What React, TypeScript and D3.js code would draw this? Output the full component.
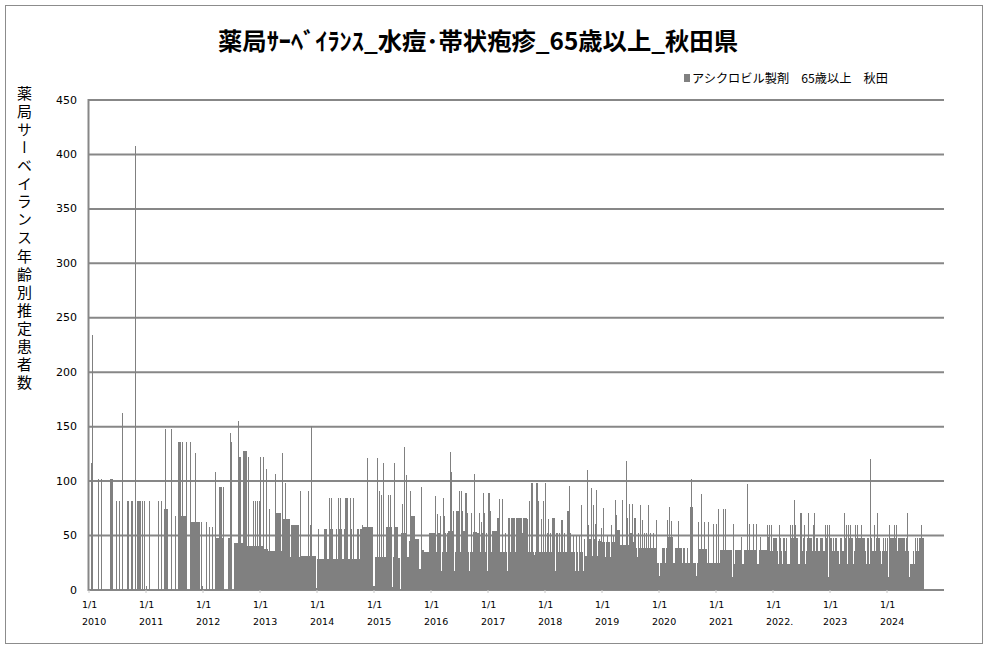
import React from 'react';
import * as d3 from 'd3';

// ---------- data (decimal years) ----------
const yearTicks = [2010, 2011, 2012, 2013, 2014, 2015, 2016, 2017, 2018, 2019, 2020, 2021, 2022, 2023, 2024];
const yearLabels = ['2010', '2011', '2012', '2013', '2014', '2015', '2016', '2017', '2018', '2019', '2020', '2021', '2022.', '2023', '2024'];
const yTicks = [0, 50, 100, 150, 200, 250, 300, 350, 400, 450];

// step levels: [start year, value]
const levels: [number, number][] = [
  [2010.0, 0],
  [2010.368, 102], [2010.416, 0],
  [2010.667, 82], [2010.695, 0],
  [2010.737, 82], [2010.766, 0],
  [2010.842, 82], [2010.87, 0],
  [2010.882, 82], [2010.912, 0],
  [2010.93, 82], [2010.953, 0],
  [2011.316, 74], [2011.386, 0],
  [2011.554, 136], [2011.614, 68], [2011.702, 0],
  [2011.777, 62], [2011.925, 0],
  [2012.211, 48], [2012.281, 95], [2012.328, 48], [2012.374, 0],
  [2012.432, 48], [2012.495, 0],
  [2012.539, 43], [2012.619, 122], [2012.661, 43], [2012.695, 128], [2012.772, 40],
  [2013.053, 38], [2013.14, 36], [2013.286, 71], [2013.326, 36], [2013.386, 65], [2013.54, 60], [2013.725, 31],
  [2014.0, 28.5], [2014.123, 56], [2014.175, 28.5], [2014.223, 56], [2014.275, 28.5], [2014.386, 56], [2014.439, 28.5],
  [2014.486, 84.5], [2014.544, 28.5], [2014.574, 56], [2014.619, 28.5], [2014.702, 56], [2014.742, 28.5], [2014.754, 56], [2014.812, 58],
  [2015.01, 30.5], [2015.21, 58], [2015.31, 30], [2015.37, 58], [2015.42, 29], [2015.48, 52], [2015.565, 30],
  [2015.61, 45], [2015.655, 68], [2015.713, 47], [2015.79, 19], [2015.83, 37], [2015.87, 35],
  [2015.98, 52], [2016.07, 35], [2016.12, 52], [2016.2, 35], [2016.25, 52], [2016.304, 54], [2016.391, 35],
  [2016.438, 72.5], [2016.497, 35], [2016.567, 54], [2016.596, 89], [2016.625, 35], [2016.731, 53], [2016.801, 35],
  [2017.005, 89], [2017.035, 35], [2017.064, 54], [2017.152, 35], [2017.158, 66], [2017.21, 35], [2017.339, 66], [2017.678, 35],
  [2017.754, 98], [2017.795, 35], [2017.842, 98], [2017.871, 82], [2017.9, 35],
  [2018.128, 66], [2018.175, 35], [2018.28, 64], [2018.321, 35], [2018.38, 72.5], [2018.427, 35],
  [2018.68, 31.5], [2018.935, 45], [2018.977, 44],
  [2019.234, 55], [2019.316, 41], [2019.491, 52], [2019.52, 44], [2019.561, 66], [2019.596, 39],
  [2019.971, 25], [2020.058, 39], [2020.105, 25], [2020.117, 39], [2020.146, 49], [2020.24, 25], [2020.281, 39], [2020.398, 25],
  [2020.427, 39], [2020.456, 25], [2020.485, 39], [2020.515, 25], [2020.544, 76.5], [2020.602, 25], [2020.696, 38], [2020.836, 25], [2020.87, 24.5],
  [2021.07, 37], [2021.275, 24], [2021.333, 37], [2021.45, 24], [2021.491, 37], [2021.713, 24], [2021.749, 37], [2021.89, 48.7], [2021.947, 36],
  [2022.005, 48], [2022.064, 36], [2022.24, 24], [2022.3, 48], [2022.444, 24], [2022.474, 36], [2022.479, 71], [2022.514, 36],
  [2022.59, 48], [2022.678, 36], [2022.754, 48], [2022.795, 36], [2022.824, 48], [2022.883, 36], [2022.912, 48], [2022.97, 36],
  [2023.0, 48], [2023.03, 36], [2023.163, 48], [2023.204, 36], [2023.263, 48], [2023.409, 36], [2023.438, 48], [2023.614, 36],
  [2023.807, 48], [2023.877, 36], [2024.052, 48], [2024.17, 36], [2024.199, 48], [2024.316, 36], [2024.403, 24], [2024.462, 36],
  [2024.561, 48], [2024.649, 0],
];

// single-day peaks: [year, value]
const spikes: [number, number][] = [
  [2010.04, 117], [2010.07, 234], [2010.17, 102], [2010.216, 102], [2010.491, 82], [2010.539, 82], [2010.579, 163],
  [2010.812, 408], [2010.965, 82], [2010.98, 82], [2011.0, 4], [2011.07, 82], [2011.223, 82], [2011.267, 82],
  [2011.339, 148], [2011.456, 148], [2011.514, 68], [2011.649, 136], [2011.719, 136], [2011.777, 136], [2011.877, 126],
  [2011.935, 62], [2011.965, 62], [2011.995, 4], [2012.053, 62], [2012.118, 58], [2012.175, 58], [2012.211, 108],
  [2012.368, 95], [2012.474, 144], [2012.496, 136], [2012.619, 155], [2012.795, 122], [2012.882, 82], [2012.917, 82],
  [2012.953, 82], [2012.988, 82],
  [2013.005, 122], [2013.053, 122], [2013.111, 111], [2013.163, 74], [2013.268, 106.5], [2013.337, 71], [2013.361, 71],
  [2013.386, 126], [2013.444, 98], [2013.707, 91], [2013.847, 91], [2013.882, 60], [2013.9, 151],
  [2014.023, 56], [2014.211, 84.5], [2014.25, 84.5], [2014.339, 56], [2014.374, 84.5], [2014.416, 84.5], [2014.475, 56],
  [2014.579, 84.5], [2014.637, 84.5], [2014.807, 60], [2014.883, 121],
  [2015.07, 121], [2015.088, 91], [2015.128, 87], [2015.163, 116.6], [2015.246, 87], [2015.286, 87], [2015.351, 116.6],
  [2015.363, 84], [2015.495, 79], [2015.53, 131], [2015.565, 105.6], [2015.637, 91], [2015.83, 95], [2015.965, 52],
  [2015.993, 52], [2016.018, 52],
  [2016.087, 86], [2016.111, 70], [2016.175, 68], [2016.228, 84.5], [2016.245, 68], [2016.345, 127], [2016.356, 108],
  [2016.391, 72.5], [2016.508, 91], [2016.543, 91], [2016.555, 72.5], [2016.637, 71], [2016.707, 71], [2016.76, 106.5],
  [2016.82, 52], [2016.84, 52], [2016.859, 71], [2016.888, 62], [2016.9, 52], [2016.918, 89], [2016.947, 71], [2016.97, 52],
  [2017.052, 72.5], [2017.198, 84], [2017.251, 84], [2017.3, 52], [2017.6, 52], [2017.63, 52], [2017.66, 52],
  [2017.69, 65], [2017.725, 82], [2017.93, 52], [2017.947, 65], [2017.97, 82], [2018.017, 98], [2018.05, 52], [2018.058, 65],
  [2018.1, 52], [2018.2, 52], [2018.222, 52], [2018.25, 52], [2018.35, 52], [2018.427, 95.5], [2018.45, 52], [2018.5, 50],
  [2018.56, 50], [2018.6, 50], [2018.643, 78], [2018.7, 47], [2018.742, 110], [2018.76, 60], [2018.78, 47], [2018.8, 47],
  [2018.818, 94], [2018.848, 78], [2018.86, 47], [2018.889, 61], [2018.906, 92], [2018.96, 47], [2018.994, 57],
  [2019.023, 60], [2019.035, 75], [2019.1, 50], [2019.164, 60], [2019.2, 50], [2019.234, 83], [2019.246, 69],
  [2019.357, 83], [2019.427, 118.5], [2019.445, 66], [2019.48, 79], [2019.532, 79], [2019.64, 52], [2019.673, 78],
  [2019.708, 64], [2019.75, 52], [2019.78, 52], [2019.813, 78], [2019.85, 52], [2019.9, 52], [2019.953, 64],
  [2020.146, 64], [2020.181, 76], [2020.216, 63], [2020.339, 63], [2020.567, 102], [2020.69, 62], [2020.737, 88],
  [2020.795, 62], [2020.86, 62], [2020.953, 61],
  [2021.012, 61], [2021.041, 74], [2021.129, 74], [2021.175, 74], [2021.304, 61], [2021.439, 49], [2021.55, 97],
  [2021.585, 61], [2021.655, 61], [2021.713, 61], [2021.772, 49], [2021.9, 60], [2021.936, 60], [2021.977, 60],
  [2022.111, 60], [2022.13, 48], [2022.181, 48], [2022.2, 48], [2022.24, 48], [2022.304, 60], [2022.35, 60], [2022.374, 83],
  [2022.403, 60], [2022.53, 48], [2022.555, 60], [2022.625, 71], [2022.66, 48], [2022.707, 60], [2022.725, 71], [2022.73, 48],
  [2022.918, 60], [2022.953, 60], [2022.988, 60], [2023.06, 48], [2023.09, 48], [2023.12, 48], [2023.251, 71], [2023.286, 60],
  [2023.321, 60], [2023.357, 60], [2023.444, 60], [2023.48, 60], [2023.55, 60], [2023.65, 48], [2023.68, 48], [2023.707, 120],
  [2023.72, 48], [2023.778, 60], [2023.83, 71], [2023.93, 48], [2023.97, 48], [2024.0, 48], [2024.052, 60], [2024.128, 60],
  [2024.175, 60], [2024.35, 48], [2024.362, 71], [2024.5, 48], [2024.53, 48], [2024.608, 60],
];

// short drops below the running level: [year, value]
const dips: [number, number][] = [
  [2013.53, 30], [2013.69, 30], [2013.975, 2], [2014.99, 4],
  [2015.316, 3], [2015.455, 0],
  [2016.1, 35], [2016.17, 17], [2016.216, 17], [2016.27, 35], [2016.403, 17], [2016.672, 17], [2016.988, 17],
  [2017.327, 17], [2017.391, 35], [2017.479, 35], [2017.596, 35], [2017.81, 32], [2017.999, 17],
  [2018.18, 17], [2018.333, 17], [2018.485, 17], [2018.526, 17], [2018.584, 17], [2018.625, 17], [2018.672, 17],
  [2019.059, 30], [2019.14, 30], [2019.199, 30], [2019.62, 30],
  [2020.006, 13], [2020.655, 13], [2020.994, 4], [2021.287, 12],
  [2022.09, 24], [2022.16, 24], [2022.56, 24], [2022.7, 24], [2022.97, 12], [2023.1, 24], [2023.15, 24],
  [2023.304, 24], [2023.409, 24], [2023.64, 24], [2023.68, 24], [2023.895, 24], [2024.023, 12], [2024.392, 12],
  [2024.47, 24], [2024.52, 24],
];

const titleText = '薬局ｻｰﾍﾞｲﾗﾝｽ_水痘･帯状疱疹_65歳以上_秋田県';
const legendText = 'アシクロビル製剤　65歳以上　秋田';
const yTitle = '薬局サーベイランス年齢別推定患者数';

// ---------- layout ----------
const W = 987;
const H = 648;
const X0 = 89;
const X1 = 944;
const Y0 = 590;
const Y1 = 100;
const GRAY = '#808080';
const DIP_SPAN = 1 / 52;

export default function App() {
  const x = d3.scaleLinear().domain([2010, 2025]).range([X0, X1]);
  const y = d3.scaleLinear().domain([0, 450]).range([Y0, Y1]);

  const sortedLevels = [...levels].sort((a, b) => a[0] - b[0]);
  const bis = d3.bisector((d: [number, number]) => d[0]).right;
  const levelAt = (t: number) => {
    const i = bis(sortedLevels, t) - 1;
    return i >= 0 ? sortedLevels[i][1] : 0;
  };

  const cols = d3.range(X0, X1).map((px) => {
    const t0 = x.invert(px);
    const t1 = x.invert(px + 1);
    const tc = x.invert(px + 0.5);
    let v = levelAt(tc);
    const dip = dips.find(([d]) => tc >= d && tc < d + DIP_SPAN);
    if (dip) v = Math.min(v, dip[1]);
    for (const [s, sv] of spikes) if (s >= t0 && s < t1) v = Math.max(v, sv);
    return { px, v };
  });

  const font = "'DejaVu Sans', Verdana, sans-serif";
  const jp = "'Noto Sans CJK JP', sans-serif";

  return (
    <svg width={W} height={H} style={{ position: 'absolute', left: 0, top: 0, background: '#fff' }}>
      <rect x={5.5} y={5.5} width={977} height={638} fill="#fff" stroke="#8c8c8c" strokeWidth={1} />

      {/* title */}
      <text x={218} y={50} fontFamily={jp} fontWeight="bold" fontSize={24} fill="#000"
        textLength={520} lengthAdjust="spacingAndGlyphs">{titleText}</text>

      {/* legend */}
      <rect x={684} y={74} width={6} height={8} fill={GRAY} />
      <text x={692} y={83} fontFamily={jp} fontSize={12} fill="#000" textLength={196} lengthAdjust="spacingAndGlyphs">{legendText}</text>

      {/* y axis title (vertical) */}
      <text x={24.5} y={85.5} fontFamily={jp} fontSize={15} fill="#000"
        style={{ writingMode: 'vertical-rl', letterSpacing: '3.1px' } as React.CSSProperties}>{yTitle}</text>

      {/* grid */}
      {yTicks.map((t) => (
        <line key={t} x1={X0 - 1} x2={X1} y1={y(t)} y2={y(t)} stroke="#878787" strokeWidth={2} />
      ))}
      <line x1={X0 - 0.5} x2={X0 - 0.5} y1={Y1 - 1} y2={Y0 + 1} stroke="#878787" strokeWidth={2} />

      {/* bars */}
      <g fill={GRAY} shapeRendering="crispEdges">
        {cols.filter((c) => c.v > 0).map((c) => (
          <rect key={c.px} x={c.px} y={y(c.v)} width={1} height={Y0 - y(c.v)} />
        ))}
      </g>

      {/* y tick labels */}
      {yTicks.map((t) => (
        <text key={t} x={77} y={y(t)} fontFamily={font} fontSize={11} fill="#000"
          textAnchor="end" dominantBaseline="central">{t}</text>
      ))}

      {/* x tick labels */}
      {yearTicks.map((yr, i) => (
        <g key={yr}>
          <line x1={x(yr)} x2={x(yr)} y1={Y0} y2={Y0 + 3} stroke="#c8c8c8" strokeWidth={1} />
          <text x={x(yr) - 7} y={608} fontFamily={font} fontSize={9.5} fill="#000">1/1</text>
          <text x={x(yr) - 7} y={625} fontFamily={font} fontSize={9.5} fill="#000">{yearLabels[i]}</text>
        </g>
      ))}
    </svg>
  );
}
